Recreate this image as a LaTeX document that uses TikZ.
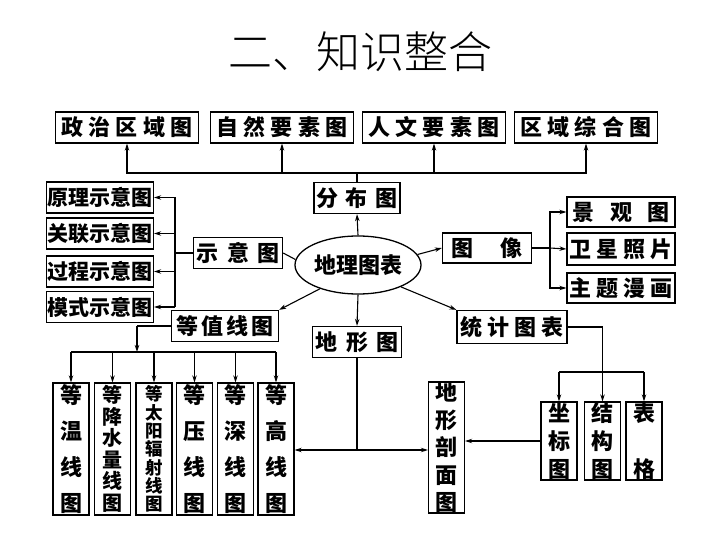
\documentclass[tikz,border=0pt]{standalone}
\usepackage{fontspec}
\setmainfont{Noto Sans CJK SC}
\newfontfamily\titlefont{Noto Sans CJK SC}[UprightFont={* Light}]
\usetikzlibrary{positioning,arrows.meta,shapes.geometric,calc}
\tikzset{
  box/.style={draw,line width=1.3pt,inner sep=0pt,minimum height=31pt,
    font=\bfseries\fontsize{22}{24}\selectfont},
  vbox/.style={box,minimum width=36pt,minimum height=132pt,align=center},
  link/.style={line width=1.1pt},
  arr/.style={link,-{Stealth[length=7pt,width=4.5pt]}},
}
\newcommand{\gapw}[1]{\hspace{#1pt}}
\begin{document}
\begin{tikzpicture}[x=1pt,y=-1pt]
\useasboundingbox (0,0) rectangle (720,540);
\node (title) at (360,52) {\titlefont\fontsize{44}{46}\selectfont 二、知识整合};
% top row
\node[box,minimum width=143pt] (zhengzhi) at (127,127.5) {政 治 区 域 图};
\node[box,minimum width=143pt] (ziran) at (282,127.5) {自 然 要 素 图};
\node[box,minimum width=143pt] (renwen) at (434,127.5) {人 文 要 素 图};
\node[box,minimum width=143pt] (quyu) at (586,127.5) {区 域 综 合 图};
\node[box,minimum width=86pt] (fenbu) at (357,198) {分\gapw{8}布\gapw{8}图};
% centre
\node[ellipse,draw,line width=1.3pt,minimum width=126pt,minimum height=58pt,inner sep=0pt,
  font=\bfseries\fontsize{22}{24}\selectfont] (center) at (358,265) {地理图表};
% right
\node[box,minimum width=89pt,minimum height=30pt] (tuxiang) at (487,248) {图\gapw{28}像};
\node[box,minimum width=108pt,minimum height=30pt] (jingguan) at (621,212) {景\gapw{16}观\gapw{16}图};
\node[box,minimum width=108pt,minimum height=32pt] (weixing) at (621,249) {卫 星 照 片};
\node[box,minimum width=108pt,minimum height=30pt] (zhuti) at (621,288) {主 题 漫 画};
% left
\node[box,minimum width=89pt] (shiyi) at (238,253) {示\gapw{9}意\gapw{9}图};
\node[box,minimum width=107pt,font=\bfseries\fontsize{21}{24}\selectfont] (yuanli) at (100,197.5) {原理示意图};
\node[box,minimum width=107pt,font=\bfseries\fontsize{21}{24}\selectfont] (guanlian) at (100,233.5) {关联示意图};
\node[box,minimum width=107pt,font=\bfseries\fontsize{21}{24}\selectfont] (guocheng) at (100,271.5) {过程示意图};
\node[box,minimum width=107pt,font=\bfseries\fontsize{21}{24}\selectfont] (moshi) at (100,307) {模式示意图};
\node[box,minimum width=107pt] (dengzhi) at (225,326) {等\gapw{3}值\gapw{3}线\gapw{3}图};
% lower middle
\node[box,minimum width=89pt] (dixing) at (357,342) {地\gapw{9}形\gapw{9}图};
\node[box,minimum width=110pt,minimum height=33pt] (tongji) at (512,327) {统\gapw{5}计\gapw{5}图\gapw{5}表};
\node[vbox,font=\bfseries\fontsize{22}{36}\selectfont] (dwen) at (71,449) {等\\温\\线\\图};
\node[vbox,font=\bfseries\fontsize{20}{21.5}\selectfont] (djiang) at (112.5,449) {等\\降\\水\\量\\线\\图};
\node[vbox,font=\bfseries\fontsize{17.5}{18.3}\selectfont] (dtai) at (154,449) {等\\太\\阳\\辐\\射\\线\\图};
\node[vbox,font=\bfseries\fontsize{22}{36}\selectfont] (dya) at (194.5,449) {等\\压\\线\\图};
\node[vbox,font=\bfseries\fontsize{22}{36}\selectfont] (dshen) at (235.5,449) {等\\深\\线\\图};
\node[vbox,font=\bfseries\fontsize{22}{36}\selectfont] (dgao) at (276,449) {等\\高\\线\\图};
\node[vbox,minimum height=131pt,font=\bfseries\fontsize{22}{27.5}\selectfont] (poumian) at (446.5,447.5) {地\\形\\剖\\面\\图};
\node[vbox,minimum height=78pt,font=\bfseries\fontsize{22}{28}\selectfont] (zuobiao) at (559,441) {坐\\标\\图};
\node[vbox,minimum height=78pt,font=\bfseries\fontsize{22}{28}\selectfont] (jiegou) at (602.5,441) {结\\构\\图};
\node[vbox,minimum height=78pt,font=\bfseries\fontsize{22}{28}\selectfont] (biaoge) at (644,441) {表\\\mbox{}\\格};
% connectors
\coordinate (topbus) at (357,173);
\draw[link] (fenbu.north) -- (topbus);
\foreach \n in {zhengzhi,ziran,renwen,quyu}
  \draw[arr] (topbus) -| (\n.south);
\draw[arr] (center.north) -- (fenbu.south);
\draw[arr] (center.10) -- (tuxiang.west);
\coordinate (imgbus) at (550,248);
\draw[link] (tuxiang.east) -- (imgbus);
\draw[arr] (imgbus) |- (jingguan.west);
\draw[arr] (imgbus) -- (weixing.west);
\draw[arr] (imgbus) |- (zhuti.west);
\draw[link] (center.175) -- (shiyi.east);
\coordinate (leftbus) at (175,253);
\draw[link] (shiyi.west) -- (leftbus);
\draw[link] (leftbus |- yuanli.east) -- (leftbus |- moshi.east);
\foreach \n in {yuanli,guanlian,guocheng,moshi}
  \draw[arr] (leftbus |- \n.east) -- (\n.east);
\draw[arr] (center.212) -- (dengzhi.north east);
\draw[arr] (center.south) -- (dixing.north);
\draw[arr] (center.-27) -- (tongji.north west);
\coordinate (dzturn) at (137,326);
\coordinate (dzbus) at (137,352);
\draw[link] (dengzhi.west) -- (dzturn);
\draw[arr] (dzturn) -- (dzbus);
\draw[link] (dzbus -| dwen.north) -- (dzbus -| dgao.north);
\foreach \n in {dwen,djiang,dtai,dya,dshen,dgao}
  \draw[arr] (dzbus -| \n.north) -- (\n.north);
\coordinate (dxturn) at (357,450);
\draw[link] (dixing.south) -- (dxturn);
\draw[arr] (dxturn) -- (dxturn -| dgao.east);
\draw[arr] (dxturn) -- (dxturn -| poumian.west);
\draw[arr] (zuobiao.west) -- (zuobiao.west -| poumian.east);
\draw[arr] (tongji.east) -| (jiegou.north);
\coordinate (tjbus) at (602,372);
\draw[link] (tjbus -| zuobiao.north) -- (tjbus -| biaoge.north);
\foreach \n in {zuobiao,biaoge}
  \draw[arr] (tjbus -| \n.north) -- (\n.north);
\end{tikzpicture}
\end{document}
